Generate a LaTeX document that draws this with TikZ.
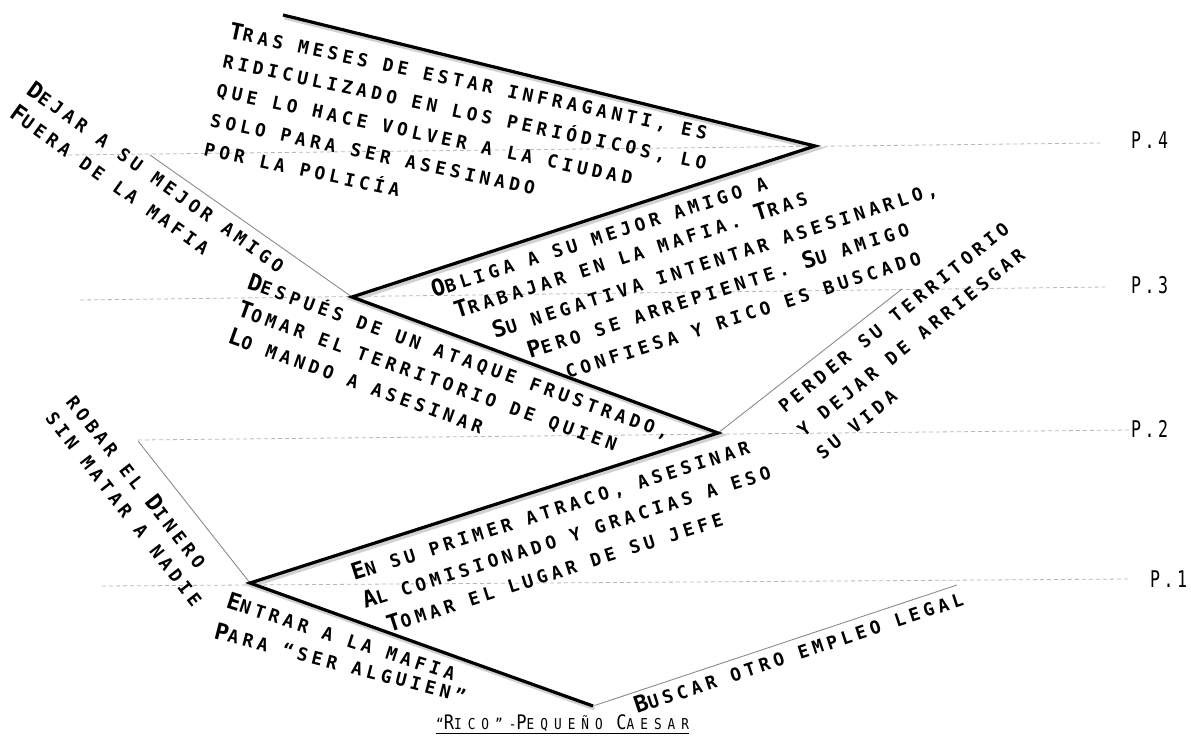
\documentclass[tikz,border=0pt]{standalone}
\usepackage{fontspec}
\usetikzlibrary{calc}
\newfontfamily\labfont[LetterSpace=24]{DejaVu Sans Mono}
\newfontfamily\titfont[LetterSpace=40,FakeStretch=0.85]{DejaVu Sans Mono}
\newfontfamily\pfont[LetterSpace=15,FakeStretch=0.72]{DejaVu Sans Mono}
\newcommand\Bg[1]{{\fontsize{23}{23}\selectfont #1}}
\newcommand\Tb[1]{{\fontsize{20}{20}\selectfont #1}}
\tikzset{
  lab/.style={font=\labfont\bfseries\fontsize{18}{18}\selectfont, inner sep=0pt, anchor=base west},
  plab/.style={font=\pfont\fontsize{23}{23}\selectfont, inner sep=0pt, anchor=west},
  thick line/.style={line width=3.2pt, black, line join=miter,
     preaction={draw=black!18, line width=5pt, transform canvas={xshift=1.6pt,yshift=-2pt}}},
  thin line/.style={line width=0.9pt, black!45},
  level/.style={line width=0.8pt, black!28, dash pattern=on 4pt off 3pt},
}
\begin{document}
\begin{tikzpicture}[x=1pt,y=-1pt]
\useasboundingbox[fill=white] (0,0) rectangle (1191,738);

% vertices
\coordinate (z0) at (283,15);
\coordinate (v4) at (815,146);
\coordinate (v3) at (352,297);
\coordinate (v2) at (718,433);
\coordinate (v1) at (250,583);
\coordinate (z5) at (593,706);
% thin line ends
\coordinate (e1) at (957,585);
\coordinate (e2) at (138,441);
\coordinate (e3) at (902,289);
\coordinate (e4) at (150,155);
% level line starts
\coordinate (d4) at (68,155);
\coordinate (d3) at (80,300);
\coordinate (d2) at (138,440);
\coordinate (d1) at (102,586);

% level labels
\node[plab] (P4) at (1131,140) {P.4};
\node[plab] (P3) at (1131,285) {P.3};
\node[plab] (P2) at (1131,429) {P.2};
\node[plab] (P1) at (1150,579) {P.1};

% dashed levels
\draw[level] (d4) -- ($(P4.west)+(-31,3)$);
\draw[level] (d3) -- ($(P3.west)+(-26,2)$);
\draw[level] (d2) -- ($(P2.west)+(-1,1)$);
\draw[level] (d1) -- ($(P1.west)+(-20,0)$);

% thin branches
\draw[thin line] (z5) -- (e1);
\draw[thin line] (v1) -- (e2);
\draw[thin line] (v2) -- (e3);
\draw[thin line] (v3) -- (e4);

% main zigzag
\draw[thick line] (z0) -- (v4) -- (v3) -- (v2) -- (v1) -- (z5);

% Block A
\begin{scope}[shift={(228,38)},rotate=-12,transform shape]
\node[lab] (a1) at (0,0) {\Bg{T}RAS MESES DE ESTAR INFRAGANTI, ES};
\node[lab] (a2) at (0,30) {RIDICULIZADO EN LOS PERIÓDICOS, LO};
\node[lab] (a3) at (0,60) {QUE LO HACE VOLVER A LA CIUDAD};
\node[lab] (a4) at (0,90) {SOLO PARA SER ASESINADO};
\node[lab] (a5) at (0,120) {POR LA POLICÍA};
\end{scope}

% Block B
\node[lab, rotate=18] (b1) at (434,298) {\Bg{O}BLIGA A SU MEJOR AMIGO A};
\node[lab, rotate=18] (b2) at (457,319) {\Bg{T}RABAJAR EN LA MAFIA. \Bg{T}RAS};
\node[lab, rotate=18] (b3) at (495,339) {\Bg{S}U NEGATIVA INTENTAR ASESINARLO,};
\node[lab, rotate=18] (b4) at (530,359) {\Bg{P}ERO SE ARREPIENTE. \Bg{S}U AMIGO};
\node[lab, rotate=18] (b5) at (568,379) {CONFIESA Y RICO ES BUSCADO};

% Block C
\begin{scope}[shift={(246,288)},rotate=-19.8,transform shape]
\node[lab] (c1) at (0,0) {\Bg{D}ESPUÉS DE UN ATAQUE FRUSTRADO,};
\node[lab] (c2) at (0,29) {\Bg{T}OMAR EL TERRITORIO DE QUIEN};
\node[lab] (c3) at (0,58) {\Bg{L}O MANDO A ASESINAR};
\end{scope}

% Block D
\begin{scope}[shift={(354,581)},rotate=17.8,transform shape]
\node[lab] (f1) at (0,0) {\Bg{E}N SU PRIMER ATRACO, ASESINAR};
\node[lab] (f2) at (2,30) {\Bg{A}L COMISIONADO Y GRACIAS A ESO};
\node[lab] (f3) at (18,60) {\Bg{T}OMAR EL LUGAR DE SU JEFE};
\end{scope}

% Block E
\node[lab, rotate=-18] (g1) at (225,607) {\Bg{E}NTRAR A LA MAFIA};
\node[lab, rotate=-14.5] (g2) at (213,638) {\Bg{P}ARA “SER ALGUIEN”};

% Block F
\node[lab, rotate=18.4] (h1) at (637,714) {\Bg{B}USCAR OTRO EMPLEO LEGAL};

% Block G
\begin{scope}[shift={(65,402)},rotate=-52,transform shape]
\node[lab] (k1) at (0,0) {ROBAR EL \Bg{D}INERO};
\node[lab] (k2) at (0,26) {SIN MATAR A NADIE};
\end{scope}

% Block H
\begin{scope}[shift={(25,93)},rotate=-35.5,transform shape]
\node[lab] (m1) at (0,0) {\Bg{D}EJAR A SU MEJOR AMIGO};
\node[lab] (m2) at (0,29) {\Bg{F}UERA DE LA MAFIA};
\end{scope}

% Block I
\begin{scope}[shift={(785,414)},rotate=39,transform shape]
\node[lab] (n1) at (0,0) {PERDER SU TERRITORIO};
\node[lab] (n2) at (0,30) {Y DEJAR DE ARRIESGAR};
\node[lab] (n3) at (0,60) {SU VIDA};
\end{scope}

% Title
\node[font=\titfont\fontsize{15}{15}\selectfont, inner sep=0pt, anchor=base west] (title) at (436,729)
  {“\Tb{R}ICO”-\Tb{P}EQUEÑO \Tb{C}AESAR};
\draw[line width=1pt] ($(title.base west)+(0,4)$) -- ($(title.base east)+(0,4)$);
\end{tikzpicture}
\end{document}
